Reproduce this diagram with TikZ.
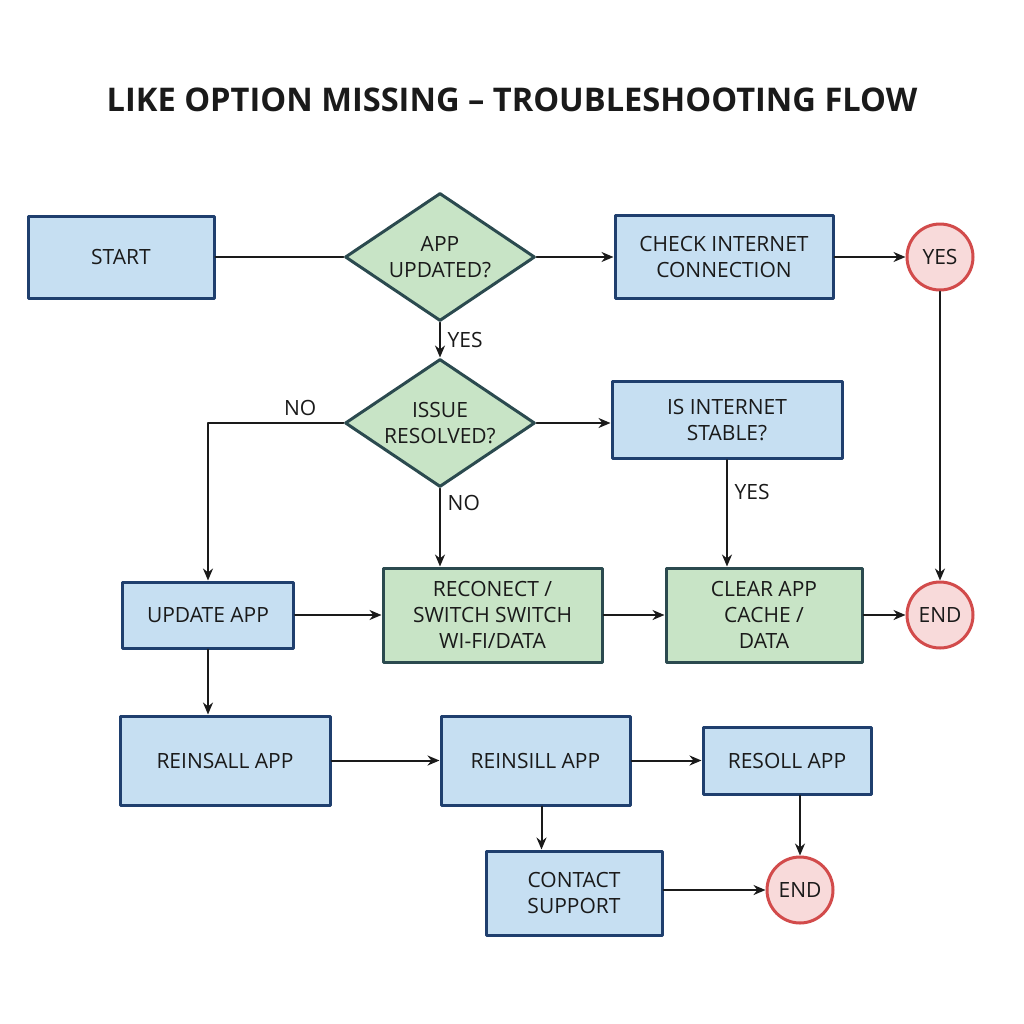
\documentclass[tikz,border=0pt]{standalone}
\usepackage{fontspec}
\setmainfont{Open Sans}
\usetikzlibrary{shapes.geometric,arrows.meta}
\definecolor{boxfill}{HTML}{C6DFF2}
\definecolor{boxline}{HTML}{1F3F6E}
\definecolor{okfill}{HTML}{C8E4C6}
\definecolor{okline}{HTML}{2B4A4F}
\definecolor{endfill}{HTML}{F8DADA}
\definecolor{endline}{HTML}{D24B4B}
\definecolor{ink}{HTML}{1A1A1A}
\begin{document}
\begin{tikzpicture}[line cap=round, line join=round, font=\fontsize{10.5}{13}\selectfont, >={Stealth[length=6pt,width=5pt]}, x=0.5pt, y=-0.5pt]
	\tikzset{blue box/.style={draw=boxline, fill=boxfill, line width=1.5pt, align=center, inner sep=0pt, text=ink},
		green box/.style={blue box, draw=okline, fill=okfill},
		decision/.style={diamond, draw=okline, fill=okfill, line width=1.5pt, align=center, inner sep=0pt, aspect=1.4, minimum width=95pt, minimum height=64pt, text=ink},
		end dot/.style={circle, draw=endline, fill=endfill, line width=1.5pt, minimum size=33pt, inner sep=0pt, text=ink},
		flow/.style={line width=1pt, ink}}
	\useasboundingbox[fill=white] (0,0) rectangle (1024,1024);
	\node[font=\bfseries\fontsize{16.3}{20}\selectfont, text=ink] (title) at (512,100) {LIKE OPTION MISSING – TROUBLESHOOTING FLOW};
	% first row
	\node[blue box, minimum width=93pt, minimum height=41pt] (start) at (121,257) {START};
	\node[decision] (updated) at (440,257) {APP\\UPDATED?};
	\node[blue box, minimum width=109pt, minimum height=41.5pt] (check) at (724,257) {CHECK INTERNET\\CONNECTION};
	\node[end dot] (yes) at (940,257) {YES};
	% second row
	\node[decision] (resolved) at (440,423) {ISSUE\\RESOLVED?};
	\node[blue box, minimum width=115pt, minimum height=38.5pt] (stable) at (727,420) {IS INTERNET\\STABLE?};
	% third row
	\node[blue box, minimum width=85.5pt, minimum height=33pt] (update) at (208,615) {UPDATE APP};
	\node[green box, minimum width=109.5pt, minimum height=47pt] (reconnect) at (492.5,615) {RECONECT /\\SWITCH SWITCH\\WI-FI/DATA};
	\node[green box, minimum width=98pt, minimum height=47pt] (cache) at (764,615) {CLEAR APP\\CACHE /\\DATA};
	\node[end dot] (end1) at (940,615) {END};
	% bottom rows
	\node[blue box, minimum width=105pt, minimum height=44.5pt] (reinsall) at (225,760.5) {REINSALL APP};
	\node[blue box, minimum width=94.5pt, minimum height=44.5pt] (reinsill) at (535.5,760.5) {REINSILL APP};
	\node[blue box, minimum width=84pt, minimum height=33.5pt] (resoll) at (787,760.5) {RESOLL APP};
	\node[blue box, minimum width=88pt, minimum height=42pt] (contact) at (574,893) {CONTACT\\SUPPORT};
	\node[end dot] (end2) at (800,890) {END};
	% connectors
	\draw[flow] (start) -- (updated);
	\draw[flow,->] (updated) -- (check);
	\draw[flow,->] (check) -- (yes);
	\draw[flow,->] (yes) -- (end1);
	\draw[flow,->] (updated) -- node[right, text=ink]{YES} (resolved);
	\draw[flow,->] (resolved.west) -| node[pos=0.16, above, text=ink]{NO} (update.north);
	\draw[flow,->] (resolved.east) -- (resolved.east -| stable.west);
	\draw[flow,->] (resolved.south) -- node[pos=0.19, right, text=ink]{NO} (resolved.south |- reconnect.north);
	\draw[flow,->] (stable.south) -- node[pos=0.3, right, text=ink]{YES} (stable.south |- cache.north);
	\draw[flow,->] (update) -- (reconnect);
	\draw[flow,->] (reconnect) -- (cache);
	\draw[flow,->] (cache) -- (end1);
	\draw[flow,->] (update.south) -- (update.south |- reinsall.north);
	\draw[flow,->] (reinsall) -- (reinsill);
	\draw[flow,->] (reinsill) -- (resoll);
	\draw[flow,->] ([xshift=3pt]reinsill.south) -- ([xshift=3pt]reinsill.south |- contact.north);
	\draw[flow,->] (end2.north |- resoll.south) -- (end2);
	\draw[flow,->] (contact.east |- end2) -- (end2.west);
\end{tikzpicture}
\end{document}
